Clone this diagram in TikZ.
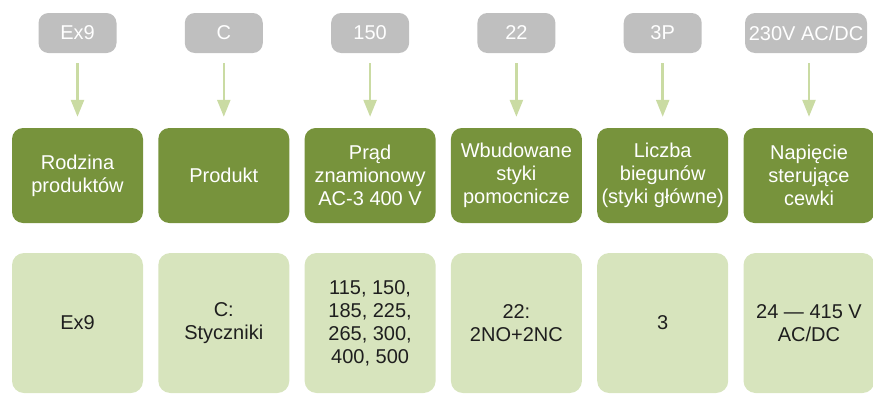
\documentclass[tikz,border=0pt]{standalone}
\usepackage{fontspec}
\setmainfont{Liberation Sans}
\usetikzlibrary{arrows.meta}
\definecolor{pillgray}{HTML}{BFBFBF}
\definecolor{darkolive}{HTML}{77933C}
\definecolor{paleolive}{HTML}{D7E4BD}
\definecolor{arrowolive}{HTML}{CADBA3}
\definecolor{valtext}{HTML}{1E1E1E}
\tikzset{
  code/.style={fill=pillgray, rounded corners=10pt, minimum width=78pt, minimum height=40pt,
    text=white, inner sep=2pt, font=\fontsize{20}{23}\selectfont},
  field/.style={fill=darkolive, rounded corners=11pt, minimum width=131pt, minimum height=95pt,
    text=white, align=center, inner sep=1pt, font=\fontsize{20}{23}\selectfont},
  value/.style={fill=paleolive, rounded corners=12pt, minimum width=131pt, minimum height=140pt,
    text=valtext, align=center, inner sep=1pt, font=\fontsize{20}{23}\selectfont},
  pointer/.style={draw=arrowolive, line width=2.5pt, -{Triangle[width=13pt,length=17pt]},
    shorten <=10pt, shorten >=11pt}
}
\begin{document}
\begin{tikzpicture}[x=1pt,y=-1pt]
\useasboundingbox (0,0) rectangle (873,394);
% codes
\node[code] (c1) at (77.5,33) {Ex9};
\node[code] (c2) at (223.8,33) {C};
\node[code] (c3) at (370.1,33) {150};
\node[code] (c4) at (516.4,33) {22};
\node[code] (c5) at (662.7,33) {3P};
\node[code, minimum width=122pt] (c6) at (806,33) {230V AC/DC};
% fields
\node[field] (f1) at (77.5,175.5) {Rodzina\\produktów};
\node[field] (f2) at (223.8,175.5) {Produkt};
\node[field] (f3) at (370.1,175.5) {Prąd\\znamionowy\\AC-3 400 V};
\node[field] (f4) at (516.4,175.5) {Wbudowane\\styki\\pomocnicze};
\node[field] (f5) at (662.7,175.5) {Liczba\\biegunów\\(styki główne)};
\node[field] (f6) at (809,175.5) {Napięcie\\sterujące\\cewki};
% values
\node[value] (v1) at (77.5,323) {Ex9};
\node[value] (v2) at (223.8,323) {C:\\Styczniki};
\node[value] (v3) at (370.1,323) {115, 150,\\185, 225,\\265, 300,\\400, 500};
\node[value] (v4) at (516.4,323) {22:\\2NO+2NC};
\node[value] (v5) at (662.7,323) {3};
\node[value] (v6) at (809,323) {24 — 415 V\\AC/DC};
% arrows
\draw[pointer] (c1) -- (f1);
\draw[pointer] (c2) -- (f2);
\draw[pointer] (c3) -- (f3);
\draw[pointer] (c4) -- (f4);
\draw[pointer] (c5) -- (f5);
\draw[pointer] (c6.south -| f6) -- (f6);
\end{tikzpicture}
\end{document}
